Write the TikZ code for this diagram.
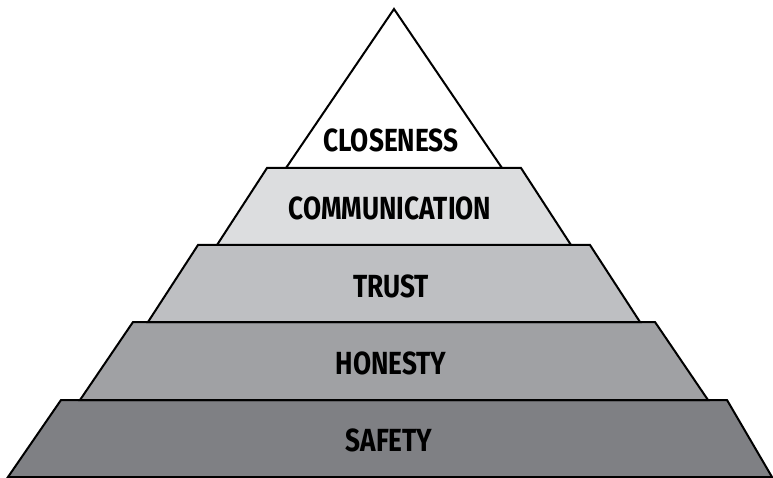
\documentclass[tikz,border=0pt]{standalone}
\usepackage{fontspec}
\usepackage{tikz}
\newfontfamily\levelfont{Fira Sans}[FakeStretch=0.82]

\definecolor{closenessfill}{RGB}{255,255,255}
\definecolor{communicationfill}{RGB}{220,221,223}
\definecolor{trustfill}{RGB}{190,191,194}
\definecolor{honestyfill}{RGB}{160,161,164}
\definecolor{safetyfill}{RGB}{127,128,132}

\tikzset{
	level/.style={draw=black,line width=2pt,line join=miter},
	levellabel/.style={font=\levelfont\bfseries\fontsize{32}{32}\selectfont,text height=22pt,text depth=0pt,inner sep=0pt}
}

\begin{document}
\begin{tikzpicture}[x=1pt,y=-1pt]
	\useasboundingbox (0,0) rectangle (773,478);

	% levels, from the base up
	\filldraw[level,fill=safetyfill] (61,400) -- (727,400) -- (772,477) -- (8,477) -- cycle;
	\filldraw[level,fill=honestyfill] (133,322) -- (655,322) -- (708,400) -- (80,400) -- cycle;
	\filldraw[level,fill=trustfill] (198,245) -- (590,245) -- (640,322) -- (148,322) -- cycle;
	\filldraw[level,fill=communicationfill] (267,168) -- (521,168) -- (571,245) -- (217,245) -- cycle;
	\filldraw[level,fill=closenessfill] (394,9) -- (502,168) -- (286,168) -- cycle;

	% labels
	\node[levellabel] (closeness) at (391,141) {CLOSENESS};
	\node[levellabel] (communication) at (390,209) {COMMUNICATION};
	\node[levellabel] (trust) at (391,286) {TRUST};
	\node[levellabel] (honesty) at (391,363) {HONESTY};
	\node[levellabel] (safety) at (389,440) {SAFETY};
\end{tikzpicture}
\end{document}
